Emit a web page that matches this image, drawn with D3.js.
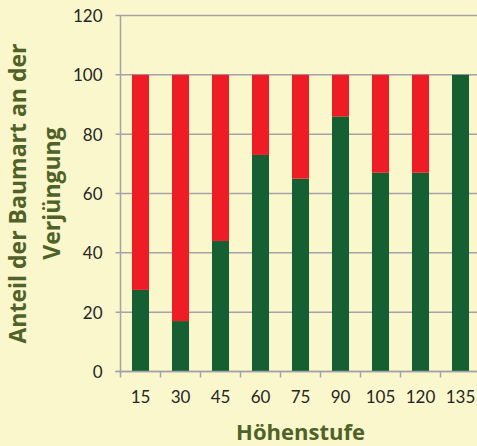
<!DOCTYPE html>
<html>
<head>
<meta charset="utf-8">
<script src="https://cdn.jsdelivr.net/npm/d3@7"></script>
<style>
  html, body { margin: 0; padding: 0; background: #FAF7CC; }
  svg { display: block; }
</style>
</head>
<body>
<svg id="chart" width="477" height="446"></svg>
<script>
// Höhenstufen (Kategorien) und Anteile der beiden Baumarten an der Verjüngung (%)
const categories = ["15", "30", "45", "60", "75", "90", "105", "120", "135"];
const gruen = [27.5, 17, 44, 73, 65, 86, 67, 67, 100];
const rot = [72.5, 83, 56, 27, 35, 14, 33, 33, 0];
const yTicks = [0, 20, 40, 60, 80, 100, 120];
const xTitle = "Höhenstufe";
const yTitleLines = ["Anteil der Baumart an der", "Verjüngung"];

const colors = { gruen: "#165F32", rot: "#EE1C25" };

const svg = d3.select("#chart");
const W = 477, H = 446;
const plot = { left: 120.5, right: 480.5, top: 15.5, bottom: 371.5 };

svg.append("rect").attr("width", W).attr("height", H).attr("fill", "#FAF7CC");

const x = d3.scaleBand()
  .domain(categories)
  .range([plot.left, plot.right])
  .paddingInner(0.574)
  .paddingOuter(0.287);

const y = d3.scaleLinear().domain([0, 120]).range([plot.bottom, plot.top]);

// Horizontal gridlines
svg.append("g")
  .selectAll("line")
  .data(yTicks)
  .join("line")
  .attr("x1", plot.left - 5)
  .attr("x2", plot.right)
  .attr("y1", d => y(d))
  .attr("y2", d => y(d))
  .attr("stroke", "#A3A3A8")
  .attr("stroke-width", 1.5);

// Stacked bars
const rows = categories.map((c, i) => ({ cat: c, gruen: gruen[i], rot: rot[i] }));
const series = d3.stack().keys(["gruen", "rot"])(rows);

svg.append("g")
  .selectAll("g")
  .data(series)
  .join("g")
  .attr("fill", d => colors[d.key])
  .selectAll("rect")
  .data(d => d)
  .join("rect")
  .attr("x", d => x(d.data.cat))
  .attr("width", x.bandwidth())
  .attr("y", d => y(d[1]))
  .attr("height", d => y(d[0]) - y(d[1]));

// Y axis line
svg.append("line")
  .attr("x1", plot.left).attr("x2", plot.left)
  .attr("y1", plot.top).attr("y2", plot.bottom)
  .attr("stroke", "#A3A3A8").attr("stroke-width", 1.5);

// X axis with tick marks between categories
const xAxis = d3.axisBottom(x).tickSize(0).tickPadding(0);
const gx = svg.append("g").attr("transform", `translate(0,${plot.bottom})`).call(xAxis);
gx.select(".domain").remove();
gx.selectAll("text")
  .attr("dy", null)
  .attr("y", 31.5)
  .attr("font-family", "Lato, 'Open Sans', sans-serif")
  .attr("font-size", 17)
  .attr("fill", "#262626");

const boundaries = categories.map(c => x(c) - x.step() * x.paddingInner() / 2);
svg.append("g")
  .selectAll("line")
  .data(boundaries)
  .join("line")
  .attr("x1", d => d).attr("x2", d => d)
  .attr("y1", plot.bottom).attr("y2", plot.bottom + 6)
  .attr("stroke", "#A3A3A8").attr("stroke-width", 1.5);

svg.append("line")
  .attr("x1", plot.left - 5).attr("x2", plot.right)
  .attr("y1", plot.bottom).attr("y2", plot.bottom)
  .attr("stroke", "#A3A3A8").attr("stroke-width", 1.5);

// Y tick labels
const yAxis = d3.axisLeft(y).tickValues(yTicks).tickSize(0).tickPadding(0);
const gy = svg.append("g").attr("transform", `translate(${plot.left - 18},0)`).call(yAxis);
gy.select(".domain").remove();
gy.selectAll("text")
  .attr("x", 0)
  .attr("dy", "0.36em")
  .attr("font-family", "Lato, 'Open Sans', sans-serif")
  .attr("font-size", 17)
  .attr("fill", "#262626");

// Axis titles
svg.append("text")
  .attr("x", (plot.left + plot.right) / 2)
  .attr("y", 439.5)
  .attr("text-anchor", "middle")
  .attr("font-family", "'Open Sans', Lato, sans-serif")
  .attr("font-weight", "bold")
  .attr("font-size", 22)
  .attr("fill", "#4F6228")
  .text(xTitle);

const yTitle = svg.append("text")
  .attr("transform", `translate(0,${(plot.top + plot.bottom) / 2}) rotate(-90)`)
  .attr("text-anchor", "middle")
  .attr("font-family", "'Open Sans', Lato, sans-serif")
  .attr("font-weight", "bold")
  .attr("font-size", 23)
  .attr("fill", "#4F6228");
yTitle.selectAll("tspan")
  .data(yTitleLines)
  .join("tspan")
  .attr("x", 0)
  .attr("y", (d, i) => 26 + i * 34)
  .text(d => d);
</script>
</body>
</html>
